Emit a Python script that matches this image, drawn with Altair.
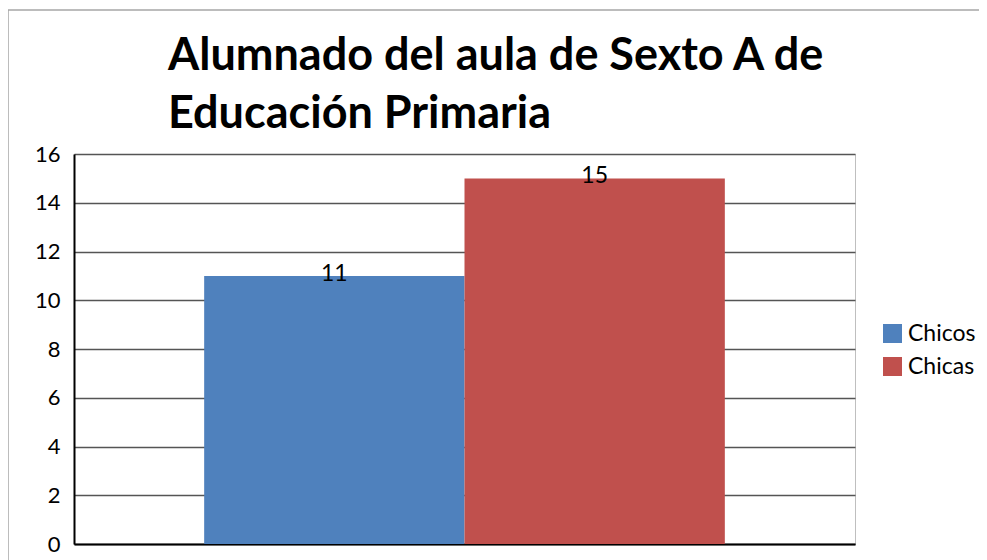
import altair as alt
import pandas as pd

series = ["Chicos", "Chicas"]
values = [11, 15]
colors = ["#4F81BD", "#C0504D"]
y_ticks = [0, 2, 4, 6, 8, 10, 12, 14, 16]
title_lines = ["Alumnado del aula de Sexto A de", "Educación Primaria"]

df = pd.DataFrame({"serie": series, "alumnos": values})
base = alt.Chart(df)

x = alt.X(
    "serie:N", sort=series,
    scale=alt.Scale(paddingInner=0, paddingOuter=0.5),
    axis=alt.Axis(labels=False, ticks=False, title=None, domainColor="#000",
                  domainWidth=2, grid=False),
)
y = alt.Y(
    "alumnos:Q",
    scale=alt.Scale(domain=[0, 16], nice=False),
    axis=alt.Axis(values=y_ticks, title=None, ticks=False, labelPadding=14,
                  labelFontSize=22, labelFont="Lato", labelColor="#000",
                  domainColor="#000", domainWidth=2, gridColor="#555",
                  gridWidth=1.5),
)

bars = base.mark_bar().encode(
    x=x, y=y,
    color=alt.Color(
        "serie:N",
        scale=alt.Scale(domain=series, range=colors),
        legend=alt.Legend(title=None, orient="none", legendX=807, legendY=168,
                          symbolType="square", symbolSize=361,
                          symbolStrokeWidth=0, labelFontSize=23,
                          labelFont="Lato", labelColor="#000", labelOffset=4,
                          rowPadding=9, padding=0),
    ),
)

labels = base.mark_text(baseline="alphabetic", dy=5, fontSize=23, font="Lato",
                        color="#000").encode(x=x, y=y, text="alumnos:Q")

frame = alt.Chart(alt.Data(values=[{}])).mark_rect(
    filled=False, stroke="#a6a6a6", strokeWidth=1.5, clip=False
).encode(x=alt.value(-66), x2=alt.value(921), y=alt.value(-144), y2=alt.value(446))

chart = alt.layer(frame, bars, labels).properties(
    width=781, height=390,
    padding={"left": 66, "top": 146, "right": 124, "bottom": 22},
    autosize="none",
    title=alt.Title(title_lines, anchor="start", frame="group", dx=94,
                    offset=0, dy=128, fontSize=45, font="Lato",
                    fontWeight="bold", color="#000", lineHeight=58),
).configure_view(stroke="#bfbfbf")

chart.save("out.html", embed_options={"renderer": "svg", "actions": False})
